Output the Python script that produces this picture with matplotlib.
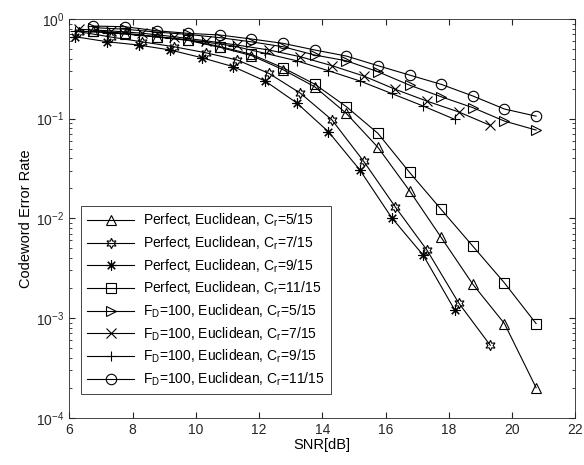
import numpy as np
import matplotlib
matplotlib.use("Agg")
import matplotlib.pyplot as plt

plt.rcParams['font.family'] = ['Liberation Sans', 'DejaVu Sans']
plt.rcParams['mathtext.fontset'] = 'custom'
plt.rcParams['mathtext.rm'] = 'Liberation Sans'
plt.rcParams['mathtext.it'] = 'Liberation Sans'
plt.rcParams['font.size'] = 10

# SNR grids (dB) per code rate
snr_a = 6.76 + np.arange(15)   # 5/15 and 11/15
snr_b = 6.31 + np.arange(14)   # 7/15
snr_c = 6.19 + np.arange(13)   # 9/15

# perfect CSI
perf_5 = [0.75, 0.71, 0.66, 0.61, 0.52, 0.43, 0.31, 0.209, 0.113, 0.0515,
          0.0189, 0.00643, 0.00218, 0.00088, 0.0002]
perf_7 = [0.745, 0.66, 0.59, 0.527, 0.459, 0.388, 0.285, 0.18, 0.0968, 0.0373,
          0.0130, 0.0048, 0.00142, 0.000533]
perf_9 = [0.664, 0.592, 0.548, 0.489, 0.409, 0.332, 0.239, 0.144, 0.0742, 0.0305,
          0.0102, 0.00427, 0.00120]
perf_11 = [0.765, 0.72, 0.665, 0.615, 0.53, 0.442, 0.324, 0.222, 0.132, 0.0712,
           0.0289, 0.01228, 0.00526, 0.00225, 0.00088]

# F_D = 100
fd_5 = [0.82, 0.79, 0.74, 0.70, 0.65, 0.59, 0.527, 0.435, 0.381, 0.296,
        0.217, 0.166, 0.129, 0.0946, 0.0769]
fd_7 = [0.79, 0.76, 0.72, 0.665, 0.605, 0.548, 0.489, 0.418, 0.340, 0.268,
        0.197, 0.150, 0.117, 0.0857]
fd_9 = [0.76, 0.73, 0.69, 0.645, 0.595, 0.536, 0.453, 0.381, 0.303, 0.239,
        0.179, 0.134, 0.0984]
fd_11 = [0.85, 0.837, 0.763, 0.718, 0.691, 0.63, 0.570, 0.489, 0.425, 0.340,
         0.274, 0.221, 0.169, 0.125, 0.106]

rates = ['5/15', '7/15', '9/15', '11/15']
series = [
    (snr_a, perf_5, '^', 'Perfect'),
    (snr_b, perf_7, (6, 1, 0), 'Perfect'),
    (snr_c, perf_9, (8, 2, 0), 'Perfect'),
    (snr_a, perf_11, 's', 'Perfect'),
    (snr_a, fd_5, '>', 'F$_{\\rm D}$=100'),
    (snr_b, fd_7, 'x', 'F$_{\\rm D}$=100'),
    (snr_c, fd_9, '+', 'F$_{\\rm D}$=100'),
    (snr_a, fd_11, 'o', 'F$_{\\rm D}$=100'),
]

fig = plt.figure(figsize=(5.84, 4.65), dpi=100)
ax = fig.add_axes([0.1187, 0.1017, 0.8664, 0.8574])

for i, (x, y, m, ch) in enumerate(series):
    lab = ch + ', Euclidean, C$_{\\rm r}$=' + rates[i % 4]
    ax.semilogy(x, y, color='k', lw=0.8, marker=m, markersize=7.5,
                markerfacecolor='none', markeredgecolor='k', markeredgewidth=0.8,
                label=lab)

ax.set_xlim(6, 22)
ax.set_ylim(1e-4, 1)
ax.set_xticks(np.arange(6, 23, 2))
ax.set_xlabel('SNR[dB]', labelpad=1, fontsize=10.5)
ax.set_ylabel('Codeword Error Rate', labelpad=2, fontsize=10.5)
ax.tick_params(which='both', direction='in', top=True, right=True, colors='#262626')
ax.tick_params(which='major', length=4)
ax.tick_params(which='minor', length=2)
for s in ax.spines.values():
    s.set_color('#262626')
    s.set_linewidth(0.6)

leg = ax.legend(loc='lower left', bbox_to_anchor=(0.023, 0.0587), borderaxespad=0,
                fancybox=False, framealpha=1, edgecolor='#262626',
                handlelength=3.4, labelspacing=0.38, handletextpad=0.6,
                borderpad=0.45, fontsize=10)
leg.get_frame().set_linewidth(0.6)

fig.savefig('out.png', dpi=100)
